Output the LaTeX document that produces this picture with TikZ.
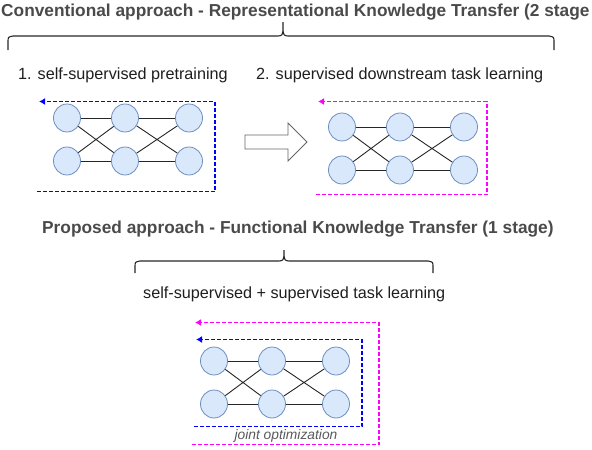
\documentclass[tikz,border=0pt]{standalone}
\usepackage{fontspec}
\setmainfont{Liberation Sans}
\usetikzlibrary{arrows.meta}
\usetikzlibrary{shapes.geometric, math}
\definecolor{nodefill}{HTML}{DAE8FC}
\definecolor{nodeline}{HTML}{6C8EBF}
\definecolor{titlegray}{HTML}{4A4A4A}
\definecolor{txtgray}{HTML}{1E1E1E}
\definecolor{myblue}{RGB}{0,0,255}
\definecolor{mymagenta}{RGB}{255,0,255}

\tikzset{
neuron/.style={ellipse, draw=nodeline, fill=nodefill, line width=0.8pt, minimum width=27pt, minimum height=28pt, inner sep=0pt},
wire/.style={line width=0.9pt, black!85},
lossloop/.style={line width=1.2pt, dash pattern=on 4pt off 2pt, -{Latex[length=6pt,width=7pt]}},
blueloop/.style={lossloop, draw=myblue},
pinkloop/.style={lossloop, draw=mymagenta},
bracket/.style={line width=1.1pt, black!85},
headline/.style={font=\fontsize{17.3}{20}\selectfont\bfseries, text=titlegray, inner sep=0pt, anchor=base west},
caption/.style={font=\fontsize{16.2}{19}\selectfont, text=txtgray, inner sep=0pt, anchor=base west}
}

\begin{document}
\begin{tikzpicture}[x=1pt, y=-1pt]
\tikzmath{
\dx=58;
\dxx=122;
\dy=43;
}
\useasboundingbox (0,0) rectangle (592,450);

%%%%%%%%%%   titles and braces
\node[headline] (convtitle) at (1,16) {Conventional approach - Representational Knowledge Transfer (2 stage};
\draw[bracket] (8,50) -- (8,42) .. controls (8,37) .. (13,36) -- (278,36) .. controls (282,36) and (283,34) .. (283,31) -- (283,22)
  (283,31) .. controls (283,34) and (284,36) .. (288,36) -- (549,36) .. controls (554,37) .. (554,42) -- (554,50);
\node[caption] (pretrain) at (18,79) {1. self-supervised pretraining};
\node[caption] (downstream) at (256,79) {2. supervised downstream task learning};

\node[headline] (proptitle) at (42,233) {Proposed approach - Functional Knowledge Transfer (1 stage)};
\draw[bracket] (135,273) -- (135,267) .. controls (135,262) .. (140,261) -- (279,261) .. controls (283,261) and (284,259) .. (284,256) -- (284,250)
  (284,256) .. controls (284,259) and (285,261) .. (289,261) -- (428,261) .. controls (433,262) .. (433,267) -- (433,273);
\node[caption] (jointtask) at (143,298) {self-supervised + supervised task learning};

%%%%%%%%%%   networks
\foreach \n/\x/\y in {L/67/118, R/342/127, J/214/361}{
\node[neuron] (\n1) at (\x,\y) {};
\node[neuron] (\n2) at (\x+\dx,\y) {};
\node[neuron] (\n3) at (\x+\dxx,\y) {};
\node[neuron] (\n4) at (\x,\y+\dy) {};
\node[neuron] (\n5) at (\x+\dx,\y+\dy) {};
\node[neuron] (\n6) at (\x+\dxx,\y+\dy) {};
\draw[wire] (\n1) -- (\n2) -- (\n3) (\n4) -- (\n5) -- (\n6);
\draw[wire] (\n1) -- (\n5) (\n4) -- (\n2) (\n2) -- (\n6) (\n5) -- (\n3);
}

%%%%%%%%%%   stage arrow
\draw[line width=0.8pt, draw=black!60, fill=white] (245,135) -- (288,135) -- (288,123) -- (307,142) -- (288,161) -- (288,149) -- (245,149) -- cycle;

%%%%%%%%%%   loss loops
\coordinate (Lstart) at (37,191.5);
\coordinate (Ltip) at (39,101.5);
\draw[blueloop] (Lstart) -- ++(178,0) |- (Ltip);

\coordinate (Rstart) at (316,194.5);
\coordinate (Rtip) at (318,101.5);
\draw[pinkloop] (Rstart) -- ++(171,0) |- (Rtip);

\coordinate (Mstart) at (192,444.5);
\coordinate (Mtip) at (195,322.5);
\draw[pinkloop] (Mstart) -- ++(187,0) |- (Mtip);

\coordinate (Bstart) at (194,426.5);
\coordinate (Btip) at (196,339.5);
\draw[blueloop] (Bstart) -- ++(168,0) |- (Btip);

\node[font=\fontsize{13.8}{16}\selectfont\itshape, text=black!65, inner sep=0pt, anchor=base] (jointopt) at (286,439) {joint optimization};

\end{tikzpicture}
\end{document}
